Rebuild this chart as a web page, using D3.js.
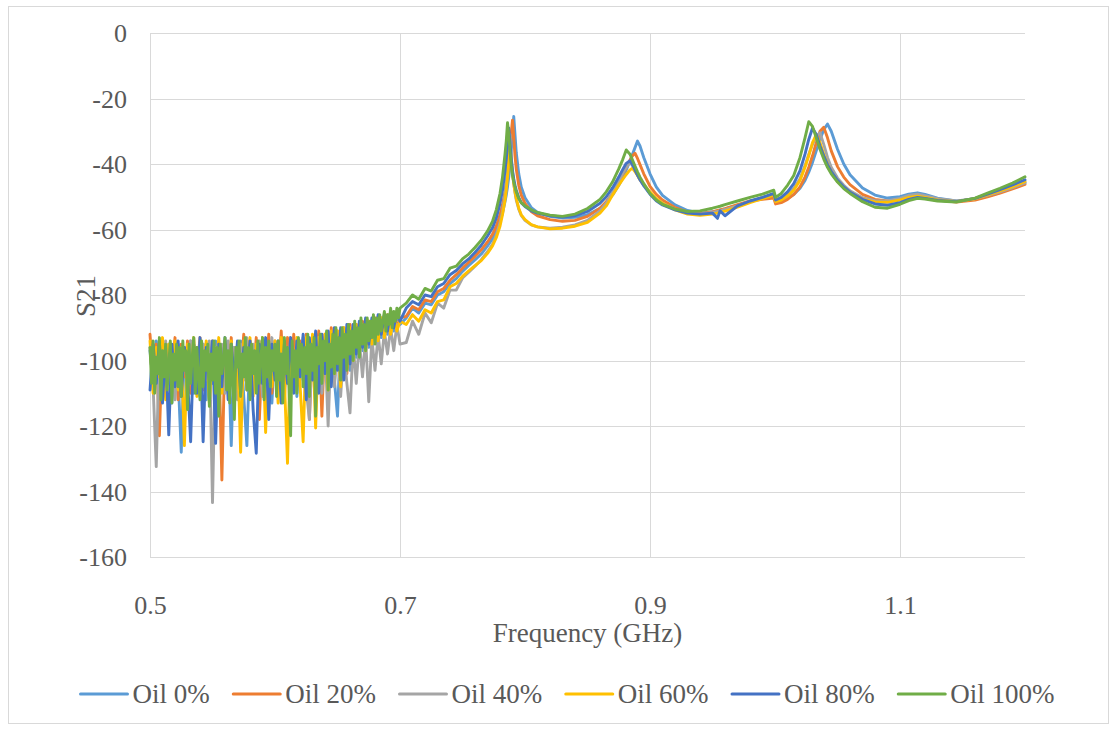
<!DOCTYPE html>
<html><head><meta charset="utf-8">
<script src="https://cdn.jsdelivr.net/npm/d3@7"></script>
<style>body{margin:0;background:#fff}</style>
</head><body><svg id="chart" width="1117" height="731"></svg>
<script>
const seriesNames = ["Oil 0%","Oil 20%","Oil 40%","Oil 60%","Oil 80%","Oil 100%"];
const seriesColors = ["#5B9BD5","#ED7D31","#A5A5A5","#FFC000","#4472C4","#70AD47"];
const xTicks = [0.5,0.7,0.9,1.1];
const yTicks = [0,-20,-40,-60,-80,-100,-120,-140,-160];

// Noisy low-frequency part: evenly spaced samples from 0.5 to 0.7 GHz
const noiseStart = 0.5, noiseEnd = 0.7;
const noise0 = [-97,-107,-94,-111,-96,-104,-95,-113,-97,-105,
 -128,-96,-108,-94,-110,-97,-106,-95,-112,-96,
 -107,-94,-109,-97,-104,-95,-126,-96,-108,-94,
 -111,-126,-95,-106,-97,-110,-94,-105,-96,-113,
 -95,-107,-93,-109,-96,-104,-94,-111,-95,-106,
 -93,-108,-94,-103,-92,-109,-93,-104,-91,-106,
 -117,-92,-101,-90,-103,-90,-99,-89,-97,-88,
 -96,-88,-94,-87,-93,-87,-92,-86,-91,-86,
 -89];
const noise1 = [-92,-106,-95,-123,-94,-108,-96,-104,-93,-112,
 -95,-105,-94,-110,-96,-103,-93,-109,-95,-106,
 -94,-111,-96,-136.5,-95,-107,-93,-113,-95,-104,
 -92,-109,-94,-106,-93,-118,-95,-105,-92,-110,
 -94,-104,-91,-112,-93,-106,-92,-108,-94,-103,
 -92,-118,-93,-105,-91,-117,-92,-102,-90,-107,
 -91,-101,-90,-104,-89,-99,-89,-97,-88,-96,
 -88,-94,-87,-93,-87,-92,-86,-91,-86,-90,
 -87];
const noise2 = [-96,-108,-132.4,-95,-110,-94,-106,-96,-112,-95,
 -105,-97,-109,-94,-104,-96,-111,-95,-106,-94,
 -143.4,-96,-107,-95,-110,-94,-105,-96,-112,-95,
 -106,-93,-109,-95,-104,-94,-111,-95,-107,-93,
 -105,-95,-110,-94,-106,-93,-108,-95,-104,-93,
 -109,-118,-94,-106,-93,-110,-95,-120,-94,-108,
 -95,-111,-96,-107,-116,-95,-107,-94,-105,-93,
 -112.6,-93,-103,-92,-101,-91,-98,-90,-97,-89,
 -95];
const noise3 = [-94,-110,-96,-105,-93,-112,-95,-106,-94,-109,
 -96,-126,-95,-107,-93,-111,-95,-104,-94,-113,
 -96,-106,-93,-110,-95,-105,-94,-112,-96,-128,
 -94,-107,-93,-111,-95,-105,-93,-122,-95,-108,
 -94,-113,-93,-106,-131.4,-95,-109,-93,-107,-124.8,
 -93,-110,-92,-120.6,-93,-106,-92,-109,-91,-104,
 -91,-108,-90,-102,-90,-100,-89,-98,-89,-97,
 -88,-95,-88,-94,-87,-93,-87,-92,-87,-91,
 -88];
const noise4 = [-109,-95,-107,-94,-113,-96,-122.7,-95,-108,-94,
 -111,-96,-105,-124.8,-95,-110,-93,-124.8,-96,-106,
 -94,-125.3,-95,-108,-93,-112,-95,-106,-94,-110,
 -96,-105,-94,-115,-128.3,-95,-107,-93,-118,-95,
 -106,-94,-113,-95,-107,-93,-110,-94,-105,-92,
 -112,-93,-106,-91,-110,-92,-104,-91,-108,-90,
 -103,-90,-106,-89,-101,-89,-98,-88,-96,-87,
 -95,-87,-93,-86,-92,-86,-91,-85,-90,-85,
 -88];
const noise5 = [-96,-107,-94,-110,-99,-104,-93,-112,-97,-105,
 -95,-109,-101,-94,-113,-98,-106,-95,-108,-96,
 -111,-94,-103,-97,-115,-95,-107,-99,-93,-110,
 -96,-105,-112,-94,-108,-97,-103,-95,-114,-98,
 -106,-94,-110,-96,-117,-95,-104,-100,-93,-109,
 -97,-113,-95,-106,-118,-96,-102,-94,-111,-98,
 -105,-93,-109,-96,-112,-95,-104,-97,-110,-94,
 -107,-99,-93,-112,-96,-105,-94,-108,-97,-103,
 -95,-111,-94,-106,-98,-113,-93,-104,-96,-109,
 -123,-94,-105,-97,-110,-93,-102,-95,-108,-96,
 -104,-92,-111,-95,-103,-93,-117,-96,-101,-92,
 -107,-94,-100,-91,-109,-95,-102,-92,-104,-90,
 -101,-93,-106,-90,-99,-92,-103,-89,-98,-91,
 -100,-88,-96,-90,-99,-87,-95,-89,-97,-87,
 -94,-88,-93,-86,-95,-87,-92,-86,-91,-88,
 -85,-91,-86,-89,-84,-90,-85,-88,-84,-87,
 -84];

// Resonance part: shared frequency grid (GHz)
const smoothFreq = [0.705,0.71,0.715,0.72,0.725,0.73,0.735,0.74,0.745,0.75,
 0.755,0.76,0.765,0.77,0.774,0.777,0.78,0.782,0.784,0.785,
 0.786,0.787,0.788,0.789,0.79,0.791,0.792,0.793,0.795,0.797,
 0.8,0.805,0.81,0.82,0.83,0.84,0.85,0.86,0.865,0.87,
 0.875,0.878,0.881,0.884,0.886,0.888,0.89,0.892,0.895,0.9,
 0.905,0.91,0.92,0.93,0.94,0.95,0.954,0.956,0.96,0.97,
 0.98,0.99,0.999,1.0005,1.005,1.01,1.015,1.02,1.024,1.027,
 1.03,1.033,1.036,1.039,1.042,1.045,1.05,1.055,1.06,1.07,
 1.08,1.09,1.1,1.107,1.114,1.12,1.13,1.145,1.16,1.17,
 1.18,1.19,1.2];
const smooth0 = [-87,-84,-85.5,-82.5,-83,-80,-79,-76.5,-75,-72.8,
 -71,-69.3,-67.5,-65,-62.8,-60.5,-57.5,-55,-51.5,-49.5,
 -47,-44,-40.5,-36,-31,-25.5,-31,-36.5,-43,-47,
 -50.3,-53.3,-54.8,-56,-56.5,-56.3,-55.5,-53.5,-51.8,-49.5,
 -46.5,-44.3,-41.8,-39,-37,-35,-33,-34.5,-38,-43,
 -47,-49.6,-52.5,-54.2,-55,-54.6,-54.3,-54.1,-53.7,-52.6,
 -51.4,-50.3,-49.5,-51.5,-51.3,-50.5,-49.3,-47.4,-45,-42.5,
 -39.5,-36,-32.5,-29.5,-27.8,-30,-35.5,-40,-43.3,-47.3,
 -49.5,-50.4,-50,-49.2,-48.8,-49.3,-50.4,-51.3,-50.8,-49.8,
 -48.7,-47.3,-45.6];
const smooth1 = [-86.5,-83.5,-84.5,-81.5,-82,-79,-78,-75.5,-73.8,-71.8,
 -70,-68.2,-66.2,-63.8,-61.5,-59,-55.5,-52.5,-48.5,-46,
 -43,-39.5,-35,-30.5,-26.6,-32,-37.5,-41.5,-46.5,-49.5,
 -52,-54.5,-55.8,-57,-57.5,-57.2,-56,-53.5,-51.5,-49,
 -45.5,-43.2,-41,-38.8,-37.5,-36.7,-38.3,-40.2,-43,-46.8,
 -49.3,-51,-53.3,-54.7,-55.2,-54.6,-54.2,-54,-53.6,-52.4,
 -51.3,-50.8,-50.4,-52.2,-51.8,-50.8,-49.3,-47,-44,-41,
 -37.5,-33.5,-30,-28.8,-32,-36,-40.8,-44,-46.3,-49.3,
 -50.8,-51.3,-50.8,-50,-49.7,-50.1,-50.9,-51.6,-51,-50,
 -48.9,-47.6,-46.2];
const smooth2 = [-94.5,-88,-92,-85.5,-88.5,-82.5,-84,-78.5,-78.5,-74.8,
 -73,-71.2,-69.2,-66.8,-64.5,-61.8,-58,-54.5,-49.5,-46,
 -41.5,-36.5,-31,-37.5,-42.5,-46,-48.8,-51,-53.8,-55.7,
 -57.2,-58.6,-59.2,-59.6,-59.3,-58.6,-57.2,-54.3,-52,-48.8,
 -45.3,-43,-41,-39.5,-40.5,-42,-43.4,-44.8,-46.5,-48.8,
 -50.7,-52,-53.8,-55,-55.3,-54.8,-54.5,-54.3,-53.9,-52.8,
 -51.4,-50.3,-49.3,-51.3,-50.8,-49.5,-47.5,-44.5,-40.5,-37,
 -34,-31.5,-30.5,-34,-38,-41,-44.3,-46.5,-48.2,-50.3,
 -51.2,-51.3,-50.5,-49.6,-49.2,-49.7,-50.6,-51.3,-50.6,-49.6,
 -48.5,-47.2,-45.8];
const smooth3 = [-89,-86,-88,-84.5,-85.5,-82,-81.5,-77.5,-76.5,-74.3,
 -72.6,-71,-69.5,-67.3,-65,-62.5,-59,-55.5,-51,-48,
 -44,-39,-34,-39.5,-43,-46,-48.5,-50.5,-53.5,-55.5,
 -57,-58.5,-59.2,-59.8,-59.6,-59,-57.8,-55,-52.8,-49.5,
 -46.5,-44.8,-43.2,-41.8,-41.3,-42.3,-43.5,-44.8,-46.3,-48.5,
 -50.5,-52,-54,-55.3,-55.7,-55.3,-55,-54.8,-54.4,-53.2,
 -51.8,-50.6,-49.5,-51.5,-51,-49.8,-48,-45,-41,-37.5,
 -33.5,-31,-33.5,-37,-40,-42.5,-45.3,-47.2,-48.8,-50.7,
 -51.6,-51.7,-51,-50.2,-49.8,-50.2,-51,-51.5,-50.6,-49.4,
 -48.2,-46.9,-45.3];
const smooth4 = [-84,-82,-83,-80,-80.5,-77.5,-76.5,-73.8,-72.5,-70.5,
 -69,-67,-64.8,-62,-59.5,-56.5,-52,-48,-42,-38.5,
 -34,-29,-33.5,-38.5,-42,-44.5,-46.5,-48,-50.3,-51.8,
 -53,-54.3,-55,-55.8,-56.2,-55.8,-54.5,-52,-50,-47.3,
 -44,-41.8,-39.8,-39,-40.2,-41.8,-43.4,-44.8,-46.6,-49.2,
 -51.2,-52.5,-54,-55,-55.3,-55,-56.6,-54.3,-55.8,-52.8,
 -51.3,-50.2,-49,-51,-50.2,-48.5,-46,-42,-37,-32.5,
 -29,-31,-34.5,-37.5,-40.2,-42.3,-45,-47,-48.6,-50.8,
 -52.2,-52.6,-51.8,-50.8,-50.2,-50.5,-51.1,-51.5,-50.5,-49.2,
 -47.8,-46.4,-44.8];
const smooth5 = [-82.5,-80,-81.3,-78,-78.8,-75.5,-75,-71.8,-71.2,-69,
 -67.5,-65.5,-63.3,-60.5,-57.5,-54,-49,-44,-37,-33,
 -27.4,-31,-36,-40.5,-43.5,-45.5,-47,-48.5,-50.5,-51.8,
 -52.8,-54,-54.8,-55.6,-56,-55.3,-53.6,-50.8,-48.5,-45.5,
 -41.5,-38.8,-35.7,-37,-38.8,-40.6,-42.4,-44,-46,-49,
 -51,-52.3,-53.8,-54.5,-54.3,-53.5,-53.1,-52.9,-52.4,-51.3,
 -50.2,-49.2,-48,-50.2,-49,-46.5,-43.5,-38,-32,-27.1,
 -28.5,-32,-35.5,-38.5,-41,-43,-45.5,-47.5,-49,-51.5,
 -53.2,-53.5,-52.3,-51.2,-50.5,-50.7,-51.3,-51.6,-50.4,-48.9,
 -47.4,-45.8,-43.9];

const noiseSets = [noise0,noise1,noise2,noise3,noise4,noise5];
const smoothSets = [smooth0,smooth1,smooth2,smooth3,smooth4,smooth5];

const svg = d3.select("#chart");
const W = 1117, H = 731;
const m = {left:150, right:1025, top:33, bottom:557};
const font = "'Liberation Serif','Times New Roman',serif";
const txt = "#595959";

svg.append("rect").attr("x",0).attr("y",0).attr("width",W).attr("height",H).attr("fill","#fff");
svg.append("rect").attr("x",8.5).attr("y",6.5).attr("width",1100).attr("height",717)
  .attr("fill","none").attr("stroke","#d9d9d9").attr("stroke-width",1);

const x = d3.scaleLinear().domain([0.5,1.2]).range([m.left,m.right]);
const y = d3.scaleLinear().domain([-160,0]).range([m.bottom,m.top]);

// grid
const g = svg.append("g");
g.selectAll(".hg").data(yTicks).join("line")
  .attr("x1",m.left).attr("x2",m.right)
  .attr("y1",d=>Math.round(y(d))+0.5).attr("y2",d=>Math.round(y(d))+0.5)
  .attr("stroke","#d9d9d9").attr("stroke-width",1);
g.selectAll(".vg").data(xTicks).join("line")
  .attr("y1",m.top).attr("y2",m.bottom)
  .attr("x1",d=>Math.round(x(d))+0.5).attr("x2",d=>Math.round(x(d))+0.5)
  .attr("stroke","#d9d9d9").attr("stroke-width",1);

// axes (labels via d3 axis)
const xAxis = d3.axisBottom(x).tickValues(xTicks).tickSize(0).tickPadding(0).tickFormat(d3.format(".1f"));
const xg = svg.append("g").attr("transform",`translate(0,${m.bottom})`).call(xAxis);
xg.select(".domain").remove();
xg.attr("font-family",font);
xg.selectAll("text").style("font-family",font).attr("font-size",26).attr("fill",txt)
  .attr("dy",null).attr("y",57);

const yAxis = d3.axisLeft(y).tickValues(yTicks).tickSize(0).tickPadding(0).tickFormat(d=>String(d));
const yg = svg.append("g").attr("transform",`translate(127,0)`).call(yAxis);
yg.select(".domain").remove();
yg.attr("font-family",font);
yg.selectAll("text").style("font-family",font).attr("font-size",26).attr("fill",txt)
  .attr("dy","0.33em").attr("x",0);

svg.append("text").attr("x",(m.left+m.right)/2).attr("y",642).attr("text-anchor","middle")
  .style("font-family",font).attr("font-size",27).attr("fill",txt).text("Frequency (GHz)");
svg.append("text").attr("transform","translate(95,296) rotate(-90)").attr("text-anchor","middle")
  .style("font-family",font).attr("font-size",27).attr("fill",txt).text("S21");

// series
const line = d3.line().x(d=>x(d[0])).y(d=>y(d[1]));
seriesNames.forEach((name,i)=>{
  const nv = noiseSets[i];
  const step = (noiseEnd-noiseStart)/(nv.length-1);
  const data = nv.map((v,k)=>[noiseStart+k*step, v])
    .concat(smoothFreq.map((f,k)=>[f, smoothSets[i][k]]));
  svg.append("path").datum(data).attr("d",line)
    .attr("fill","none").attr("stroke",seriesColors[i]).attr("stroke-width",2.9)
    .attr("stroke-linejoin","round").attr("stroke-linecap","round");
});

// legend
const lg = svg.append("g");
const items = seriesNames.map((n,i)=>{
  const t = lg.append("text").style("font-family",font).attr("font-size",27).attr("fill",txt).attr("y",703).text(n);
  return {t, w:t.node().getComputedTextLength(), i};
});
const gap = 23.5, lineW = 47, textOff = 52;
const total = d3.sum(items,d=>textOff+d.w) + gap*(items.length-1);
let cx = 567.5 - total/2;
items.forEach(it=>{
  lg.append("line").attr("x1",cx).attr("x2",cx+lineW).attr("y1",694).attr("y2",694)
    .attr("stroke",seriesColors[it.i]).attr("stroke-width",3).attr("stroke-linecap","round");
  it.t.attr("x",cx+textOff);
  cx += textOff + it.w + gap;
});
</script></body></html>
